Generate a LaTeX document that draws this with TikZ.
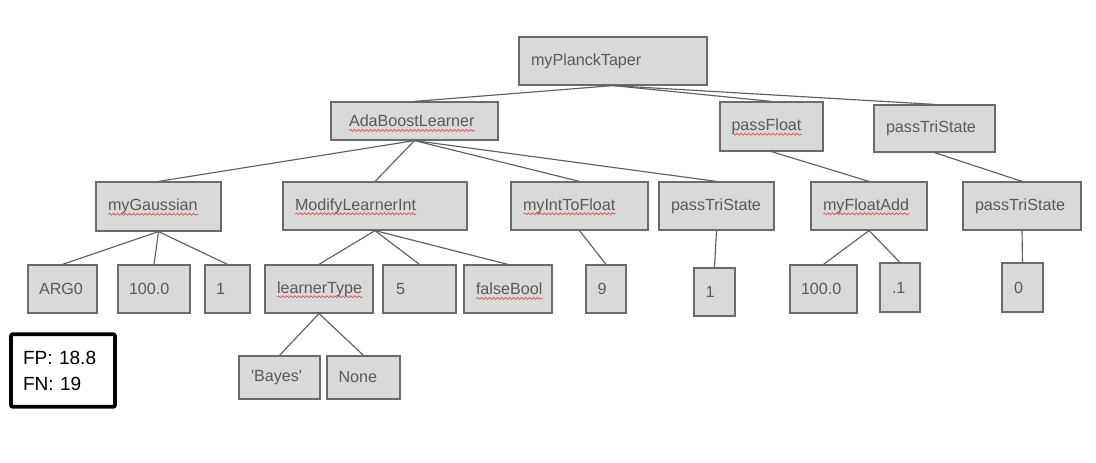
\documentclass[tikz,border=0pt]{standalone}
\usepackage{fontspec}
\setmainfont{Liberation Sans}
\usetikzlibrary{decorations.pathmorphing}
\definecolor{boxfill}{HTML}{D9D9D9}
\definecolor{boxline}{HTML}{6B6B6B}
\definecolor{txtgray}{HTML}{595959}
\definecolor{edgegray}{HTML}{5F5F5F}
\definecolor{spellred}{HTML}{E53935}
\tikzset{
  box/.style={draw=boxline, line width=0.9pt, fill=boxfill, text=txtgray,
    font=\fontsize{12.1}{14.5}\selectfont, inner ysep=0pt, rectangle},
  edge/.style={draw=edgegray, line width=0.85pt},
  sqline/.style={draw=spellred, line width=0.45pt, decorate,
    decoration={snake, amplitude=0.7pt, segment length=3pt}},
  fpbox/.style={draw=black, line width=2.8pt, rounded corners=1.5pt, fill=white,
    text=black, font=\fontsize{14.3}{19.5}\selectfont, align=left}
}
\newsavebox\sqbox
\newcommand\sq[1]{\sbox\sqbox{#1}\rlap{\smash{\raisebox{-2.7pt}{\tikz[baseline=0pt]\draw[sqline] (0pt,0pt) -- (\wd\sqbox,0pt);}}}\usebox\sqbox}
% \bx[pad]{name}{x1}{y1}{x2}{y2}{text}
\newcommand\bx[7][12]{%
  \pgfmathsetmacro\bxw{(#5-#3-2*#1)*0.75}%
  \pgfmathsetmacro\bxh{(#6-#4)*0.75}%
  \pgfmathsetmacro\bxp{#1*0.75}%
  \node[box, inner xsep=\bxp pt, minimum height=\bxh pt] (#2) at ({(#3+#5)/2},{(#4+#6)/2}) {\makebox[\bxw pt][l]{#7}};}
\begin{document}
\begin{tikzpicture}[x=0.75pt,y=-0.75pt]
\path[fill=white] (0,0) rectangle (1096,463);
\useasboundingbox (0,0) rectangle (1096,463);
% level 0
\bx{root}{519}{37}{707}{85}{myPlanckTaper}
% level 1
\bx[18]{ada}{331}{102}{498}{140}{\sq{AdaBoostLearner}}
\bx[11.5]{pf}{720}{102}{823}{151}{\sq{passFloat}}
\bx{ptsA}{874}{105}{995}{152}{passTriState}
% level 2
\bx{gauss}{96}{182}{221}{231}{\sq{myGaussian}}
\bx{mod}{283}{182}{467}{230}{\sq{ModifyLearnerInt}}
\bx{itf}{511}{182}{648}{230}{\sq{myIntToFloat}}
\bx{ptsB}{659}{182}{774}{230}{passTriState}
\bx{fadd}{811}{182}{927}{230}{\sq{myFloatAdd}}
\bx{ptsC}{963}{182}{1081}{230}{passTriState}
% level 3
\bx[11]{arg}{28}{265}{97}{313}{ARG0}
\bx[11]{hundA}{118}{265}{190}{313}{100.0}
\bx[11]{oneA}{205}{265}{250}{313}{1}
\bx{lt}{265}{265}{373}{313}{\sq{learnerType}}
\bx[13]{five}{383}{265}{456}{313}{5}
\bx{fb}{464}{265}{552}{313}{\sq{falseBool}}
\bx[11.7]{nine}{586}{265}{626}{313}{9}
\bx[11.7]{oneB}{694}{268}{735}{316}{1}
\bx[11]{hundB}{790}{265}{857}{313}{100.0}
\bx{pt1}{880}{263}{920}{312}{.1}
\bx{zero}{1002}{263}{1043}{312}{0}
% level 4
\bx{bayes}{239}{356}{320}{399}{\textquotesingle Bayes\textquotesingle}
\bx[11.5]{none}{327}{356}{400}{399}{None}
% score box
\node[fpbox, text width=60pt, inner xsep=9pt, minimum height=54.5pt] (score) at (63,370.5) {FP: 18.8\\FN: 19};
% edges
\foreach \a/\b in {root/ada, root/pf, root/ptsA,
  ada/gauss, ada/mod, ada/itf, ada/ptsB, pf/fadd, ptsA/ptsC,
  gauss/arg, gauss/hundA, gauss/oneA, mod/lt, mod/five, mod/fb,
  itf/nine, ptsB/oneB, fadd/hundB, fadd/pt1, ptsC/zero,
  lt/bayes, lt/none}
  \draw[edge] (\a.south) -- (\b.north);
\end{tikzpicture}
\end{document}
